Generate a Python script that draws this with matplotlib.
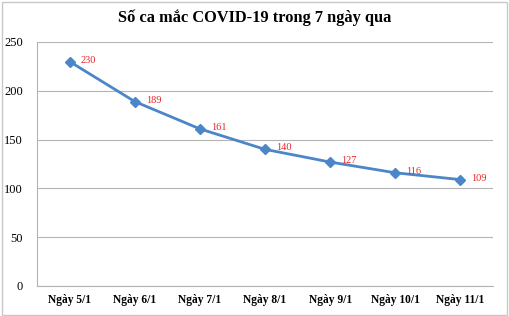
import matplotlib.pyplot as plt
from matplotlib.patches import Rectangle

days = ["Ngày 5/1", "Ngày 6/1", "Ngày 7/1", "Ngày 8/1", "Ngày 9/1", "Ngày 10/1", "Ngày 11/1"]
cases = [230, 189, 161, 140, 127, 116, 109]
yticks = [0, 50, 100, 150, 200, 250]

plt.rcParams['font.family'] = ['Liberation Serif', 'DejaVu Serif']

fig = plt.figure(figsize=(5.1, 3.16), dpi=100)
ax = fig.add_axes([37 / 510, 30 / 316, 456 / 510, 244 / 316])

x = list(range(len(days)))
ax.plot(x, cases, color='#4a86c8', lw=2, marker='D', ms=5, zorder=3)
for xi, v in zip(x, cases):
    ax.annotate(str(v), (xi, v), xytext=(8, 1), textcoords='offset points',
                color='#e8262a', fontsize=7.5, va='center', ha='left')

ax.set_xlim(-0.5, len(days) - 0.5)
ax.set_ylim(0, 250)
ax.set_yticks(yticks)
ax.set_xticks(x)
ax.set_xticklabels(days, fontsize=8.3, fontweight='bold')
ax.tick_params(axis='y', labelsize=9, length=0, pad=10)
ax.tick_params(axis='x', length=0, pad=6)
ax.grid(axis='y', color='#b4b4b4', lw=0.8)
ax.set_axisbelow(True)
for s in ['top', 'right']:
    ax.spines[s].set_visible(False)
for s in ['left', 'bottom']:
    ax.spines[s].set_color('#b4b4b4')
    ax.spines[s].set_linewidth(0.8)

fig.text(0.5, 0.945, "Số ca mắc COVID-19 trong 7 ngày qua", ha='center', va='center',
         fontsize=11.8, fontweight='bold')
fig.patches.append(Rectangle((0.003, 0.004), 0.992, 0.99, transform=fig.transFigure,
                             fill=False, edgecolor='#c8c8c8', lw=1))

fig.savefig('out.png', dpi=100)
